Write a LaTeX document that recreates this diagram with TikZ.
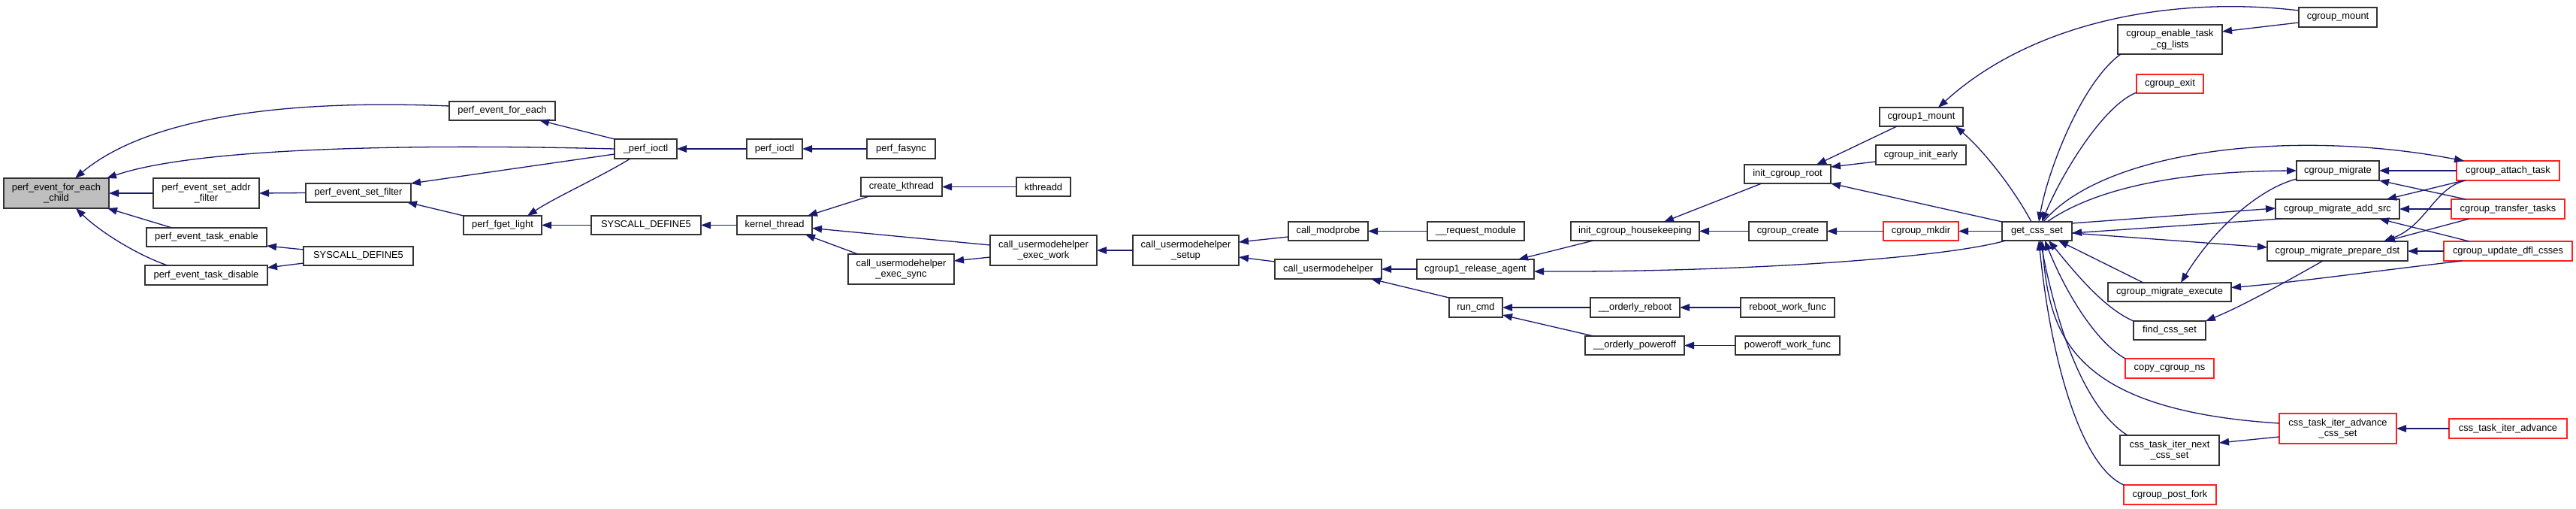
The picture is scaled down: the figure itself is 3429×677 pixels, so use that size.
\documentclass[tikz,border=0pt]{standalone}
\usepackage{fontspec}
\setmainfont{Liberation Sans}
\usetikzlibrary{arrows.meta}
\definecolor{edgec}{HTML}{191970}
\definecolor{rootfill}{HTML}{BFBFBF}
\definecolor{redb}{HTML}{FF2020}
\newcommand\mknode[7]{\node[box,#7,minimum width={(#4-#2)*1pt},minimum height={(#5-#3)*1pt}] (#1) at ({(#2+#4)/2},{(#3+#5)/2}) {#6};}
\tikzset{
  box/.style={draw=black!80, fill=white, line width=1.3pt, inner sep=0pt, outer sep=0pt, align=center, font=\fontsize{12.9}{14.5}\selectfont},
  redbox/.style={draw=redb},
  e/.style={draw=edgec, line width=1.3pt, -{Triangle[length=13pt,width=9.5pt]}, color=edgec},
}
\begin{document}
\begin{tikzpicture}[x=1pt,y=-1pt]
\fill[white] (0,0) rectangle (3429,677);
\useasboundingbox (0,0) rectangle (3429,677);
\mknode{n1}{5}{237}{145}{277}{perf\_event\_for\_each\\\_child}{fill=rootfill}
\mknode{n2}{204}{237}{345}{277}{perf\_event\_set\_addr\\\_filter}{}
\mknode{n3}{407}{244}{547}{269}{perf\_event\_set\_filter}{}
\mknode{n4}{195}{303}{355}{328}{perf\_event\_task\_enable}{}
\mknode{n5}{193}{353}{356}{379}{perf\_event\_task\_disable}{}
\mknode{n6}{404}{328}{550}{353}{SYSCALL\_DEFINE5}{}
\mknode{n7}{598}{135}{739}{160}{perf\_event\_for\_each}{}
\mknode{n8}{818}{185}{901}{211}{\_perf\_ioctl}{}
\mknode{n9}{994}{185}{1068}{211}{perf\_ioctl}{}
\mknode{n10}{1154}{185}{1245}{211}{perf\_fasync}{}
\mknode{n11}{617}{287}{721}{312}{perf\_fget\_light}{}
\mknode{n12}{787}{287}{933}{312}{SYSCALL\_DEFINE5}{}
\mknode{n13}{981}{287}{1081}{312}{kernel\_thread}{}
\mknode{n14}{1146}{236}{1254}{261}{create\_kthread}{}
\mknode{n15}{1353}{236}{1425}{261}{kthreadd}{}
\mknode{n16}{1129}{338}{1270}{378}{call\_usermodehelper\\\_exec\_sync}{}
\mknode{n17}{1318}{313}{1460}{353}{call\_usermodehelper\\\_exec\_work}{}
\mknode{n18}{1508}{313}{1649}{353}{call\_usermodehelper\\\_setup}{}
\mknode{n19}{1715}{295}{1821}{320}{call\_modprobe}{}
\mknode{n20}{1697}{345}{1839}{371}{call\_usermodehelper}{}
\mknode{n21}{1900}{295}{2029}{320}{\_\_request\_module}{}
\mknode{n22}{1886}{345}{2042}{371}{cgroup1\_release\_agent}{}
\mknode{n23}{1929}{396}{2000}{422}{run\_cmd}{}
\mknode{n24}{2091}{295}{2262}{320}{init\_cgroup\_housekeeping}{}
\mknode{n25}{2322}{219}{2437}{244}{init\_cgroup\_root}{}
\mknode{n26}{2328}{295}{2432}{320}{cgroup\_create}{}
\mknode{n27}{2117}{396}{2236}{422}{\_\_orderly\_reboot}{}
\mknode{n28}{2110}{447}{2242}{472}{\_\_orderly\_poweroff}{}
\mknode{n29}{2317}{396}{2442}{422}{reboot\_work\_func}{}
\mknode{n30}{2310}{447}{2449}{472}{poweroff\_work\_func}{}
\mknode{n31}{2502}{143}{2613}{168}{cgroup1\_mount}{}
\mknode{n32}{2497}{193}{2617}{219}{cgroup\_init\_early}{}
\mknode{n33}{2507}{295}{2607}{320}{cgroup\_mkdir}{redbox}
\mknode{n34}{2665}{295}{2758}{320}{get\_css\_set}{}
\mknode{n35}{2819}{33}{2958}{72}{cgroup\_enable\_task\\\_cg\_lists}{}
\mknode{n36}{2844}{99}{2933}{124}{cgroup\_exit}{redbox}
\mknode{n37}{2806}{376}{2970}{401}{cgroup\_migrate\_execute}{}
\mknode{n38}{2840}{427}{2936}{452}{find\_css\_set}{}
\mknode{n39}{2829}{477}{2947}{503}{copy\_cgroup\_ns}{redbox}
\mknode{n40}{2822}{579}{2954}{619}{css\_task\_iter\_next\\\_css\_set}{}
\mknode{n41}{2827}{645}{2950}{671}{cgroup\_post\_fork}{redbox}
\mknode{n42}{3060}{10}{3164}{36}{cgroup\_mount}{}
\mknode{n43}{3057}{214}{3167}{240}{cgroup\_migrate}{}
\mknode{n44}{3270}{214}{3407}{240}{cgroup\_attach\_task}{redbox}
\mknode{n45}{3029}{265}{3194}{291}{cgroup\_migrate\_add\_src}{}
\mknode{n46}{3263}{265}{3414}{291}{cgroup\_transfer\_tasks}{redbox}
\mknode{n47}{3018}{321}{3205}{347}{cgroup\_migrate\_prepare\_dst}{}
\mknode{n48}{3253}{321}{3424}{347}{cgroup\_update\_dfl\_csses}{redbox}
\mknode{n49}{3034}{550}{3190}{590}{css\_task\_iter\_advance\\\_css\_set}{redbox}
\mknode{n50}{3260}{557}{3417}{583}{css\_task\_iter\_advance}{redbox}
% left part
\draw[e] ([shift={(0,6)}]n7.north west) .. controls (330,130) and (180,170) .. ([shift={(95,0)}]n1.north west);
\draw[e] (n8.west) .. controls (500,190) and (250,200) .. ([shift={(-3,0)}]n1.north east);
\draw[e] (n2.west) -- (n1.east);
\draw[e] (n3.west) -- (n2.east);
\draw[e] ([shift={(34,0)}]n4.north west) -- ([shift={(-2,0)}]n1.south east);
\draw[e] ([shift={(30,0)}]n5.north west) .. controls (185,340) and (135,310) .. ([shift={(96,0)}]n1.south west);
\draw[e] ([shift={(0,4)}]n6.north west) -- ([shift={(0,-1)}]n4.south east);
\draw[e] ([shift={(0,-3)}]n6.south west) -- ([shift={(0,3)}]n5.north east);
\draw[e] ([shift={(0,7)}]n8.west) -- (n3.north east);
\draw[e] (n11.north west) -- ([shift={(-5,0)}]n3.south east);
\draw[e] (n8.north west) -- ([shift={(-21,0)}]n7.south east);
\draw[e] ([shift={(21,0)}]n8.south west) .. controls (800,235) and (740,262) .. ([shift={(-19,0)}]n11.north east);
\draw[e] (n12.west) -- (n11.east);
\draw[e] (n9.west) -- (n8.east);
\draw[e] (n10.west) -- (n9.east);
\draw[e] (n13.west) -- (n12.east);
\draw[e] ([shift={(11,0)}]n14.south west) -- ([shift={(-6,0)}]n13.north east);
\draw[e] ([shift={(0,-7)}]n17.west) -- ([shift={(0,4)}]n13.east);
\draw[e] ([shift={(13,0)}]n16.north west) -- ([shift={(-9,0)}]n13.south east);
\draw[e] (n15.west) -- (n14.east);
\draw[e] ([shift={(0,9)}]n17.west) -- ([shift={(0,9)}]n16.north east);
\draw[e] (n18.west) -- (n17.east);
\draw[e] ([shift={(0,-5)}]n19.south west) -- ([shift={(0,9)}]n18.north east);
\draw[e] ([shift={(0,3)}]n20.north west) -- ([shift={(0,9)}]n18.east);
\draw[e] (n21.west) -- (n19.east);
\draw[e] (n22.west) -- (n20.east);
\draw[e] (n23.north west) -- ([shift={(128,0)}]n20.south west);
\draw[e] ([shift={(30,0)}]n24.south west) -- ([shift={(-21,0)}]n22.north east);
\draw[e] ([shift={(23,0)}]n25.south west) -- ([shift={(-47,0)}]n24.north east);
\draw[e] (n26.west) -- (n24.east);
\draw[e] (n33.west) -- (n26.east);
\draw[e] (n27.west) -- (n23.east);
\draw[e] ([shift={(11,0)}]n28.north west) -- ([shift={(0,-3)}]n23.south east);
\draw[e] (n29.west) -- (n27.east);
\draw[e] (n30.west) -- (n28.east);
% cgroup part
\draw[e] ([shift={(23,0)}]n31.south west) -- ([shift={(-19,0)}]n25.north east);
\draw[e] ([shift={(0,9)}]n32.west) -- ([shift={(0,3)}]n25.north east);
\draw[e] (n34.north west) -- (n25.south east);
\draw[e] (n34.west) -- (n33.east);
\draw[e] ([shift={(39,0)}]n34.north west) .. controls (2680,250) and (2640,200) .. ([shift={(-10,0)}]n31.south east);
\draw[e] ([shift={(0,4)}]n42.north west) .. controls (2900,-5) and (2710,25) .. ([shift={(-33,0)}]n31.north east);
\draw[e] ([shift={(0,-6)}]n42.south west) -- ([shift={(0,9)}]n35.north east);
\draw[e] ([shift={(4,0)}]n35.south west) .. controls (2770,110) and (2725,230) .. ([shift={(49,0)}]n34.north west);
\draw[e] ([shift={(0,-1)}]n36.south west) .. controls (2800,140) and (2745,230) .. ([shift={(53,0)}]n34.north west);
\draw[e] ([shift={(55,0)}]n34.north west) .. controls (2800,200) and (3050,170) .. ([shift={(10,0)}]n44.north west);
\draw[e] ([shift={(60,0)}]n34.north west) .. controls (2790,250) and (2900,228) .. (n43.west);
\draw[e] ([shift={(0,-2)}]n43.south west) .. controls (3010,250) and (2950,300) .. ([shift={(97,0)}]n37.north west);
\draw[e] ([shift={(0,2)}]n34.north east) -- ([shift={(0,-1)}]n45.west);
\draw[e] ([shift={(8,0)}]n45.south west) -- ([shift={(0,2.5)}]n34.east);
\draw[e] ([shift={(0,2.5)}]n34.east) -- ([shift={(0,-5)}]n47.west);
\draw[e] ([shift={(74,0)}]n47.south west) .. controls (3060,365) and (2990,405) .. (n38.north east);
\draw[e] ([shift={(24,0)}]n48.south west) .. controls (3150,362) and (3050,376) .. ([shift={(0,-6)}]n37.east);
\draw[e] ([shift={(47,0)}]n37.north west) -- ([shift={(75,0)}]n34.south west);
\draw[e] (n38.north west) .. controls (2800,410) and (2760,360) .. ([shift={(62,0)}]n34.south west);
\draw[e] (n39.north west) .. controls (2790,455) and (2750,390) .. ([shift={(57,0)}]n34.south west);
\draw[e] ([shift={(0,-7)}]n49.west) .. controls (2750,545) and (2728,440) .. ([shift={(53,0)}]n34.south west);
\draw[e] ([shift={(10,0)}]n40.north west) .. controls (2770,540) and (2735,420) .. ([shift={(51,0)}]n34.south west);
\draw[e] (n41.north west) .. controls (2770,620) and (2730,480) .. ([shift={(49,0)}]n34.south west);
\draw[e] ([shift={(0,11)}]n49.west) -- ([shift={(0,-10)}]n40.east);
\draw[e] (n50.west) -- (n49.east);
\draw[e] ([shift={(5,0)}]n34.south west) .. controls (2580,345) and (2300,362) .. ([shift={(0,3)}]n22.east);
% right cluster
\draw[e] (n44.west) -- (n43.east);
\draw[e] ([shift={(19,0)}]n46.north west) -- (n43.south east);
\draw[e] ([shift={(10,0)}]n44.south west) -- ([shift={(-17,0)}]n45.north east);
\draw[e] (n46.west) -- (n45.east);
\draw[e] ([shift={(34,0)}]n48.north west) -- ([shift={(-27,0)}]n45.south east);
\draw[e] ([shift={(12,0)}]n44.south west) .. controls (3240,250) and (3230,300) .. ([shift={(155,0)}]n47.north west);
\draw[e] ([shift={(24,0)}]n46.south west) -- ([shift={(157,0)}]n47.north west);
\draw[e] (n48.west) -- (n47.east);
\end{tikzpicture}
\end{document}
